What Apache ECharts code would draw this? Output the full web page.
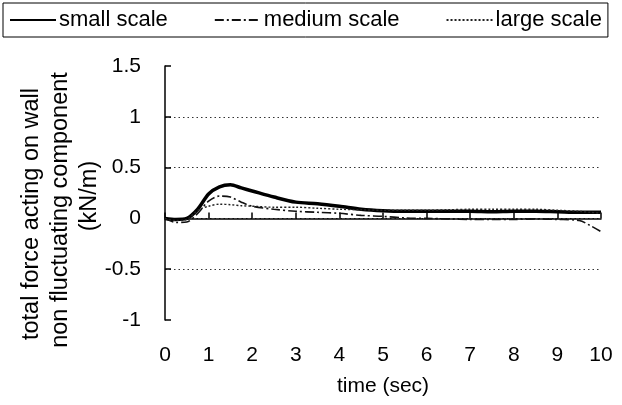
<!DOCTYPE html>
<html>
<head>
<meta charset="utf-8">
<script src="https://cdn.jsdelivr.net/npm/echarts@6/dist/echarts.min.js"></script>
<style>
  html, body { margin: 0; padding: 0; background: #fff; }
  #chart { width: 622px; height: 405px; }
</style>
</head>
<body>
<div id="chart"></div>
<script>
// sampling times (sec)
const timeSec = [0, 0.25, 0.5, 0.75, 1, 1.25, 1.5, 1.75, 2, 2.5, 3, 3.5, 4, 4.5, 5, 5.5, 6, 6.5, 7, 7.5, 8, 8.5, 9, 9.5, 9.75, 10];

// non fluctuating component of total wall force (kN/m)
const smallScale  = [0, -0.01, 0.0, 0.09, 0.24, 0.31, 0.33, 0.30, 0.27, 0.21, 0.16, 0.145, 0.12, 0.09, 0.075, 0.07, 0.07, 0.07, 0.07, 0.065, 0.07, 0.07, 0.065, 0.06, 0.06, 0.06];
const mediumScale = [0, -0.04, -0.035, 0.05, 0.17, 0.22, 0.21, 0.16, 0.12, 0.09, 0.07, 0.06, 0.05, 0.03, 0.02, 0.005, 0.0, -0.005, -0.01, -0.01, -0.01, -0.005, -0.01, -0.02, -0.07, -0.13];
const largeScale  = [0, -0.02, -0.01, 0.08, 0.12, 0.14, 0.135, 0.125, 0.12, 0.11, 0.11, 0.10, 0.09, 0.085, 0.08, 0.08, 0.08, 0.085, 0.09, 0.09, 0.09, 0.09, 0.08, 0.07, 0.06, 0.05];

const seriesNames = ['small scale', 'medium scale', 'large scale'];
const xTicks = [0, 1, 2, 3, 4, 5, 6, 7, 8, 9, 10];
const yTicks = [-1, -0.5, 0, 0.5, 1, 1.5];
const yTitleLines = ['total force acting on wall', 'non fluctuating component', '(kN/m)'];

const FONT = '"Liberation Sans", Arial, sans-serif';

const pairs = vals => timeSec.map((t, i) => [t, vals[i]]);

const chart = echarts.init(document.getElementById('chart'), null, { renderer: 'canvas' });

chart.setOption({
  animation: false,
  backgroundColor: '#fff',
  grid: { left: 165, right: 21, top: 66, bottom: 85, containLabel: false },
  legend: {
    left: 3, top: 3,
    padding: [6, 6, 6, 6],
    borderColor: '#000', borderWidth: 1,
    itemGap: 46, itemWidth: 46, itemHeight: 14,
    itemStyle: { opacity: 0 },
    textStyle: { fontFamily: FONT, fontSize: 22, color: '#000', padding: [0, 0, 0, -2] },
    data: seriesNames
  },
  xAxis: {
    type: 'value', min: xTicks[0], max: xTicks[xTicks.length - 1], interval: 1,
    name: 'time (sec)', nameLocation: 'middle', nameGap: 56,
    nameTextStyle: { fontFamily: FONT, fontSize: 21, color: '#000' },
    axisLine: { lineStyle: { color: '#000', width: 1.5 } },
    axisTick: { inside: true, length: 6, lineStyle: { color: '#000', width: 1.5 } },
    axisLabel: { fontFamily: FONT, fontSize: 21, color: '#000', margin: 25 },
    splitLine: { show: false }
  },
  yAxis: {
    type: 'value', min: yTicks[0], max: yTicks[yTicks.length - 1], interval: 0.5,
    axisLine: { show: true, lineStyle: { color: '#000', width: 1.5 } },
    axisTick: { show: true, inside: true, length: 6, lineStyle: { color: '#000', width: 1.5 } },
    axisLabel: { fontFamily: FONT, fontSize: 21, color: '#000', margin: 24 },
    splitLine: {
      show: true,
      lineStyle: {
        color: ['transparent', '#333', '#333', '#333', '#333', 'transparent'],
        type: [1.5, 3], width: 1
      }
    }
  },
  graphic: yTitleLines.map((txt, i) => ({
    type: 'text',
    x: [32, 61, 90][i],
    y: [214, 210, 196][i],
    rotation: Math.PI / 2,
    style: {
      text: txt, fontFamily: FONT, fontSize: 23.5, fill: '#000',
      align: 'center', verticalAlign: 'middle'
    }
  })),
  series: [
    {
      name: seriesNames[0], type: 'line', data: pairs(smallScale),
      symbol: 'none', smooth: 0.3,
      lineStyle: { color: '#000', width: 3.5, type: 'solid' },
      itemStyle: { color: '#000' }
    },
    {
      name: seriesNames[1], type: 'line', data: pairs(mediumScale),
      symbol: 'none', smooth: 0.3,
      lineStyle: { color: '#111', width: 1.6, type: [9, 3, 2, 3] },
      itemStyle: { color: '#111' }
    },
    {
      name: seriesNames[2], type: 'line', data: pairs(largeScale),
      symbol: 'none', smooth: 0.3,
      lineStyle: { color: '#222', width: 1.4, type: [2, 2] },
      itemStyle: { color: '#222' }
    }
  ]
});
</script>
</body>
</html>
